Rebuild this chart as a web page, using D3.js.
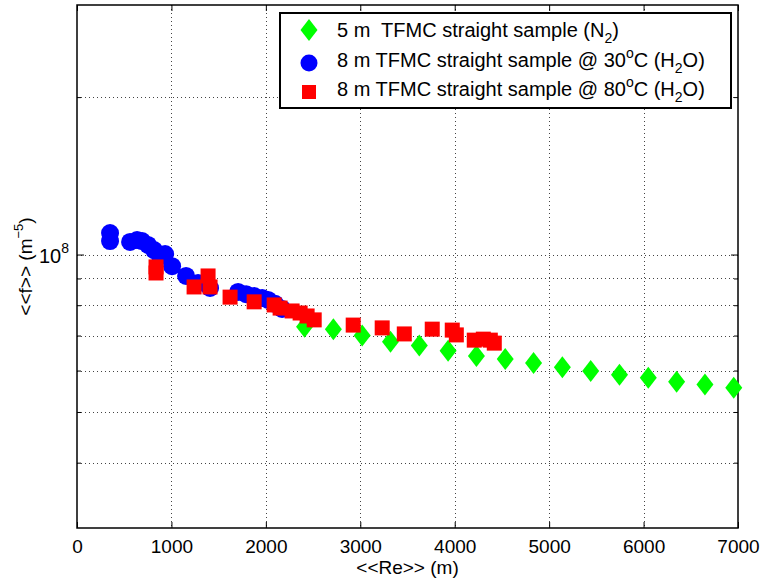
<!DOCTYPE html>
<html>
<head>
<meta charset="utf-8">
<script src="https://cdn.jsdelivr.net/npm/d3@7"></script>
<style>
  body { margin: 0; background: #fff; }
  svg { font-family: "Liberation Sans", Arial, Helvetica, sans-serif; }
  text { white-space: pre; }
</style>
</head>
<body>
<div id="chart"></div>
<script>
// 5 m sample, N2
const n2Re = [2410, 2715, 3020, 3320, 3625, 3930, 4230, 4535, 4835, 5140, 5440, 5745, 6050, 6350, 6650, 6955];
const n2F = [7.28e7, 7.20e7, 7.00e7, 6.81e7, 6.70e7, 6.55e7, 6.40e7, 6.31e7, 6.20e7, 6.09e7, 5.99e7, 5.89e7, 5.81e7, 5.71e7, 5.64e7, 5.56e7];

// 8 m sample, water at 30 C
const w30Re = [350, 350, 562, 636, 689, 752, 816, 880, 933, 1007, 1155, 1282, 1409, 1706, 1791, 1876, 1961, 2024, 2098, 2172];
const w30F = [1.099e8, 1.061e8, 1.057e8, 1.066e8, 1.061e8, 1.043e8, 1.020e8, 9.93e7, 1.002e8, 9.50e7, 9.10e7, 8.82e7, 8.63e7, 8.48e7, 8.40e7, 8.33e7, 8.26e7, 8.19e7, 8.05e7, 7.87e7];

// 8 m sample, water at 80 C
const w80Re = [837, 837, 1240, 1388, 1409, 1621, 1876, 2088, 2151, 2278, 2363, 2437, 2512, 2925, 3232, 3466, 3762, 3974, 4017, 4207, 4303, 4377, 4419];
const w80F = [9.47e7, 9.22e7, 8.67e7, 9.10e7, 8.67e7, 8.29e7, 8.12e7, 8.01e7, 7.90e7, 7.80e7, 7.73e7, 7.63e7, 7.50e7, 7.33e7, 7.24e7, 7.05e7, 7.20e7, 7.17e7, 7.02e7, 6.86e7, 6.89e7, 6.86e7, 6.77e7];

const xTicks = [0, 1000, 2000, 3000, 4000, 5000, 6000, 7000];
const yMajor = [1e8];
const yMinor = [4e7, 5e7, 6e7, 7e7, 8e7, 9e7, 2e8];

const width = 762, height = 581;
const margin = { top: 5, right: 24, bottom: 53, left: 77 };
const w = width - margin.left - margin.right;
const h = height - margin.top - margin.bottom;

const svg = d3.select('#chart')
  .append('svg')
  .attr('width', width)
  .attr('height', height);

const g = svg.append('g')
  .attr('transform', `translate(${margin.left},${margin.top})`);

const x = d3.scaleLinear().domain([0, 7000]).range([0, w]);
const y = d3.scaleLog().domain([3e7, 3e8]).range([h, 0]);

// dotted grid
const grid = g.append('g').attr('stroke', '#444').attr('stroke-width', 1).attr('stroke-dasharray', '1,3');
grid.selectAll('.gx')
  .data(xTicks.slice(1, -1))
  .enter().append('line')
  .attr('x1', d => Math.round(x(d)) + 0.5).attr('x2', d => Math.round(x(d)) + 0.5)
  .attr('y1', 0).attr('y2', h);
grid.selectAll('.gy')
  .data(yMajor.concat(yMinor))
  .enter().append('line')
  .attr('x1', 0).attr('x2', w)
  .attr('y1', d => Math.round(y(d)) + 0.5).attr('y2', d => Math.round(y(d)) + 0.5);

// axes (ticks inside, like MATLAB)
g.append('g')
  .attr('transform', `translate(0,${h})`)
  .call(d3.axisBottom(x).tickValues(xTicks).tickSizeInner(-6).tickSizeOuter(0).tickPadding(12).tickFormat(d3.format('d')))
  .call(a => a.select('.domain').remove())
  .selectAll('text').style('font-size', '19px').attr('fill', '#000');
g.append('g')
  .call(d3.axisTop(x).tickValues(xTicks).tickSizeInner(-6).tickSizeOuter(0).tickFormat(''))
  .call(a => a.select('.domain').remove());
g.append('g')
  .call(d3.axisLeft(y).tickValues(yMajor).tickSizeInner(-7).tickSizeOuter(0).tickFormat(''))
  .call(a => a.select('.domain').remove());
g.append('g')
  .call(d3.axisLeft(y).tickValues(yMinor).tickSizeInner(-4).tickSizeOuter(0).tickFormat(''))
  .call(a => a.select('.domain').remove());
g.append('g')
  .attr('transform', `translate(${w},0)`)
  .call(d3.axisRight(y).tickValues(yMajor).tickSizeInner(-7).tickSizeOuter(0).tickFormat(''))
  .call(a => a.select('.domain').remove());
g.append('g')
  .attr('transform', `translate(${w},0)`)
  .call(d3.axisRight(y).tickValues(yMinor).tickSizeInner(-4).tickSizeOuter(0).tickFormat(''))
  .call(a => a.select('.domain').remove());

// y tick label 10^8
const yl = g.append('text')
  .attr('x', -8).attr('y', y(1e8) + 8)
  .attr('text-anchor', 'end')
  .style('font-size', '20px');
yl.append('tspan').text('10');
yl.append('tspan').attr('dy', -10).style('font-size', '14px').text('8');

// frame
g.append('rect')
  .attr('width', w).attr('height', h)
  .attr('fill', 'none').attr('stroke', '#000').attr('stroke-width', 1.5);

// markers
function drawDiamond(sel) {
  sel.attr('d', 'M0,-11L8.5,0L0,11L-8.5,0Z').attr('fill', '#00ff00');
}

const plot = g.append('g');
plot.selectAll('.n2')
  .data(n2Re.map((r, i) => [r, n2F[i]]))
  .enter().append('path')
  .attr('transform', d => `translate(${x(d[0])},${y(d[1])})`)
  .call(drawDiamond);

plot.selectAll('.w30')
  .data(w30Re.map((r, i) => [r, w30F[i]]))
  .enter().append('circle')
  .attr('cx', d => x(d[0])).attr('cy', d => y(d[1]))
  .attr('r', 9).attr('fill', '#0000ff');

plot.selectAll('.w80')
  .data(w80Re.map((r, i) => [r, w80F[i]]))
  .enter().append('rect')
  .attr('x', d => x(d[0]) - 7.5).attr('y', d => y(d[1]) - 7.5)
  .attr('width', 15).attr('height', 15)
  .attr('fill', '#ff0000');

// axis labels
svg.append('text')
  .attr('x', margin.left + w / 2).attr('y', 574)
  .attr('text-anchor', 'middle')
  .style('font-size', '19px')
  .text('<<Re>> (m)');

const ylab = svg.append('text')
  .attr('transform', `translate(32,${margin.top + h / 2}) rotate(-90)`)
  .attr('text-anchor', 'middle')
  .style('font-size', '19px');
ylab.append('tspan').text('<<f>> (m');
ylab.append('tspan').attr('dy', -9).style('font-size', '13px').text('\u22125');
ylab.append('tspan').attr('dy', 9).text(')');

// legend
const lg = svg.append('g');
lg.append('rect')
  .attr('x', 280).attr('y', 13).attr('width', 451).attr('height', 95)
  .attr('fill', '#fff').attr('stroke', '#000').attr('stroke-width', 2);

lg.append('path').attr('transform', 'translate(309,30)').call(drawDiamond);
lg.append('circle').attr('cx', 309).attr('cy', 63).attr('r', 8.5).attr('fill', '#0000ff');
lg.append('rect').attr('x', 302).attr('y', 85).attr('width', 14).attr('height', 14).attr('fill', '#ff0000');

const fs = '20px', sub = '14px';
const t1 = lg.append('text').attr('x', 337).attr('y', 37).style('font-size', fs);
t1.append('tspan').text('5 m  TFMC straight sample (N');
t1.append('tspan').attr('dy', 6).style('font-size', sub).text('2');
t1.append('tspan').attr('dy', -6).text(')');

[['30', 67], ['80', 96]].forEach(([temp, yy]) => {
  const t = lg.append('text').attr('x', 337).attr('y', yy).style('font-size', fs);
  t.append('tspan').text(`8 m TFMC straight sample @ ${temp}`);
  t.append('tspan').attr('dy', -9).style('font-size', sub).text('o');
  t.append('tspan').attr('dy', 9).text('C (H');
  t.append('tspan').attr('dy', 6).style('font-size', sub).text('2');
  t.append('tspan').attr('dy', -6).text('O)');
});
</script>
</body>
</html>
